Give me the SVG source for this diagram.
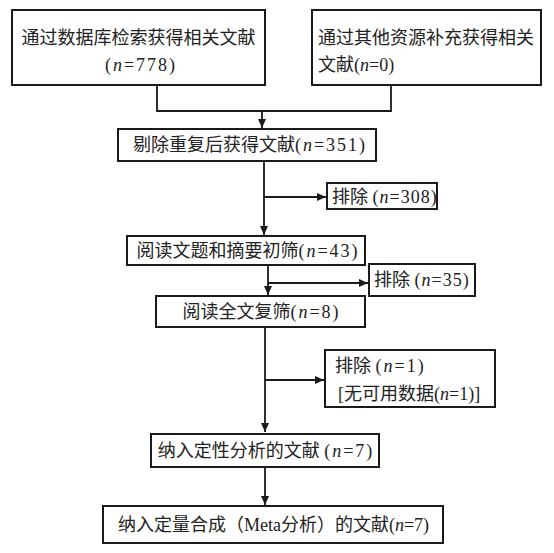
<svg xmlns="http://www.w3.org/2000/svg" width="554" height="553" viewBox="0 0 554 553">
<style>
.box{fill:#fff;stroke:#1a1a1a;stroke-width:2}
.t{font-family:"Liberation Serif","Noto Sans CJK SC",serif;font-size:18px;fill:#222}
.i{font-style:italic}
.w{letter-spacing:2px}
.w1{letter-spacing:1px}
.c{fill:none;stroke:#1a1a1a;stroke-width:1.8}
</style>
<defs>
<marker id="ah" markerUnits="userSpaceOnUse" markerWidth="10" markerHeight="8" refX="9" refY="4" orient="auto">
<path d="M0,0 L9,4 L0,8 Z" fill="#1a1a1a"/>
</marker>
</defs>
<rect width="554" height="553" fill="#fff"/>
<g id="connectors">
<path class="c" d="M157,85 V111 H391 V85"/>
<path class="c" d="M262,111 V128" marker-end="url(#ah)"/>
<path class="c" d="M264,161 V235" marker-end="url(#ah)"/>
<path class="c" d="M264,197 H326" marker-end="url(#ah)"/>
<path class="c" d="M268,265 V295" marker-end="url(#ah)"/>
<path class="c" d="M268,283 H368" marker-end="url(#ah)"/>
<path class="c" d="M265,327 V432" marker-end="url(#ah)"/>
<path class="c" d="M265,380 H324" marker-end="url(#ah)"/>
<path class="c" d="M265,467 V505" marker-end="url(#ah)"/>
</g>
<g id="n1">
<rect class="box" x="12" y="10" width="253" height="75"/>
<text class="t" x="138.5" y="44" text-anchor="middle" font-size="19">通过数据库检索获得相关文献</text>
<text class="t" x="141" y="71" text-anchor="middle" font-size="19"><tspan class="w">(<tspan class="i">n</tspan>=778)</tspan></text>
</g>
<g id="n2">
<rect class="box" x="312" y="10" width="229" height="75"/>
<text class="t" x="318" y="44">通过其他资源补充获得相关</text>
<text class="t" x="318" y="71">文献(<tspan class="i">n</tspan>=0)</text>
</g>
<g id="n3">
<rect class="box" x="118" y="129" width="258" height="32"/>
<text class="t" x="250" y="151" text-anchor="middle">剔除重复后获得文献<tspan class="w">(<tspan class="i">n</tspan>=351)</tspan></text>
</g>
<g id="e1">
<rect class="box" x="327" y="183" width="110" height="26"/>
<text class="t" x="332" y="203">排除 <tspan class="w1">(<tspan class="i">n</tspan>=308)</tspan></text>
</g>
<g id="n4">
<rect class="box" x="127" y="236" width="238" height="29"/>
<text class="t" x="248" y="257" text-anchor="middle">阅读文题和摘要初筛<tspan class="w">(<tspan class="i">n</tspan>=43)</tspan></text>
</g>
<g id="e2">
<rect class="box" x="369" y="264" width="106" height="32"/>
<text class="t" x="374" y="286">排除 <tspan class="w1">(<tspan class="i">n</tspan>=35)</tspan></text>
</g>
<g id="n5">
<rect class="box" x="156" y="296" width="209" height="31"/>
<text class="t" x="261.5" y="318" text-anchor="middle">阅读全文复筛<tspan class="w">(<tspan class="i">n</tspan>=8)</tspan></text>
</g>
<g id="e3">
<rect class="box" x="325" y="350" width="170" height="57"/>
<text class="t" x="335" y="372">排除 <tspan class="w">(<tspan class="i">n</tspan>=1)</tspan></text>
<text class="t" x="338" y="400">[无可用数据(<tspan class="i">n</tspan>=1)]</text>
</g>
<g id="n6">
<rect class="box" x="151" y="434" width="228" height="33"/>
<text class="t" x="266" y="457" text-anchor="middle">纳入定性分析的文献 <tspan class="w">(<tspan class="i">n</tspan>=7)</tspan></text>
</g>
<g id="n7">
<rect class="box" x="103" y="506" width="340" height="37"/>
<text class="t" x="273.5" y="531" text-anchor="middle">纳入定量合成（Meta分析）的文献(<tspan class="i">n</tspan>=7)</text>
</g>
</svg>
